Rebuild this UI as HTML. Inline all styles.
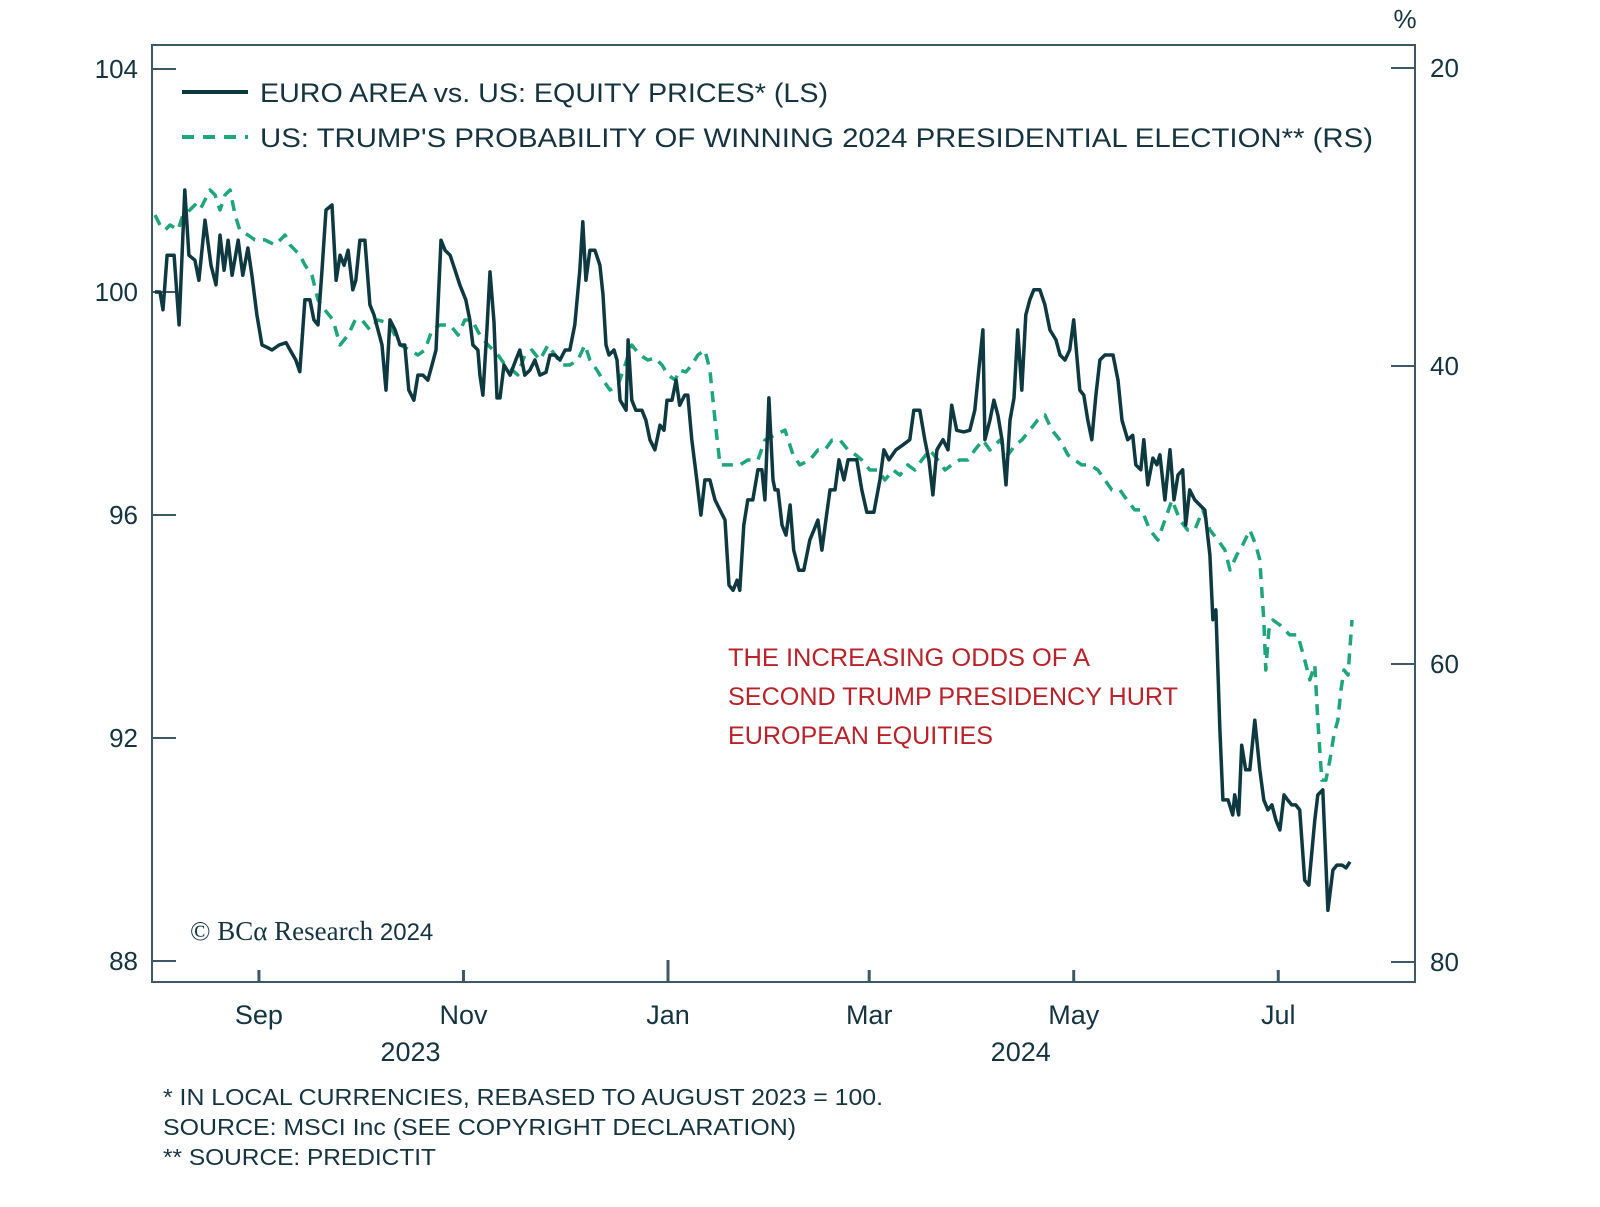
<!DOCTYPE html>
<html><head><meta charset="utf-8"><style>
html,body{margin:0;padding:0;background:#fff;}
svg{display:block;font-family:"Liberation Sans",sans-serif;}
</style></head><body>
<svg id="chart" width="1600" height="1207" viewBox="0 0 1600 1207">
<rect x="152" y="45" width="1263" height="937" fill="none" stroke="#3f5866" stroke-width="2"/>
<g id="axes"></g>
<g id="series"></g>
<g>
<line x1="182" y1="92" x2="248" y2="92" stroke="#0e3940" stroke-width="4"/>
<text x="260" y="102" font-size="27" fill="#15343f" textLength="568" lengthAdjust="spacingAndGlyphs">EURO AREA vs. US: EQUITY PRICES* (LS)</text>
<line x1="182" y1="137" x2="248" y2="137" stroke="#1fa57a" stroke-width="4" stroke-dasharray="12 9"/>
<text x="260" y="147" font-size="27" fill="#15343f" textLength="1113" lengthAdjust="spacingAndGlyphs">US: TRUMP'S PROBABILITY OF WINNING 2024 PRESIDENTIAL ELECTION** (RS)</text>
</g>
<g fill="#b8232a" font-size="25">
<text x="728" y="666" textLength="362" lengthAdjust="spacingAndGlyphs">THE INCREASING ODDS OF A</text>
<text x="728" y="705" textLength="450" lengthAdjust="spacingAndGlyphs">SECOND TRUMP PRESIDENCY HURT</text>
<text x="728" y="744" textLength="265" lengthAdjust="spacingAndGlyphs">EUROPEAN EQUITIES</text>
</g>
<text x="190" y="940" font-family="Liberation Serif, serif" font-size="27" fill="#15343f">© BCα Research <tspan font-family="Liberation Sans, sans-serif" font-size="24">2024</tspan></text>
<text x="1405" y="28" font-size="26" fill="#15343f" text-anchor="middle">%</text>
<g fill="#15343f" font-size="23">
<text x="163" y="1105" textLength="720" lengthAdjust="spacingAndGlyphs">* IN LOCAL CURRENCIES, REBASED TO AUGUST 2023 = 100.</text>
<text x="163" y="1135" textLength="633" lengthAdjust="spacingAndGlyphs">SOURCE: MSCI Inc (SEE COPYRIGHT DECLARATION)</text>
<text x="163" y="1165" textLength="273" lengthAdjust="spacingAndGlyphs">** SOURCE: PREDICTIT</text>
</g>
</svg>
<script>
const eqDays=[0,1.5,2.4,3.6,5.7,7.2,8.9,10.1,11.9,13.1,14.9,16.7,18.2,19.4,20.6,21.8,23,24.8,26.2,27.7,28.9,30.4,31.9,33.7,34.9,37,39.1,40.3,42,43.2,44.7,46.2,47.4,48.6,49.8,51,52.8,54,55.2,56.4,57.6,59,59.9,61.1,62.6,64.1,65.3,66.5,67.7,68.9,70.1,71.6,73.1,74.5,75.7,77.2,78.4,79.9,81.4,82.6,83.8,85.3,86.5,88,89.5,90.9,92.7,93.9,94.8,96.3,96.9,97.8,99,99.9,101.1,102,102.9,104.1,105.9,107.6,108.8,110.3,111.8,113.3,114.8,116.6,117.8,119.3,120.8,122.3,123.7,125.2,126.7,127.6,128.5,129.7,131.2,132.7,133.6,134.5,135.4,136.9,137.8,138.7,140.5,141.1,142.2,143.4,145.2,146.4,147.6,149.1,150.6,151.8,152.7,154.2,155.4,156.5,158,158.9,160.1,161.6,162.8,164,165.5,167,168.5,170,171.2,172.4,173.6,174.4,175.6,176.8,178.3,179.8,181,181.9,183.1,184.3,184.9,185.8,187,188.2,189.4,190.5,192,193.5,195.3,196.5,197.7,198.9,200.1,201.3,202.8,204,205.5,206.7,207.8,209.3,210.8,212.3,214.4,216.2,217.4,218.9,221,223.1,225.1,226.3,228.1,229.6,230.8,232,233.2,235,236.5,237.6,239.1,241.2,243,244.5,245.7,246.9,247.5,249,250.2,251.4,252.6,253.8,255,256.2,257.3,258.5,259.7,260.9,262.1,263.9,265.4,266.9,268.7,269.9,271.4,272.8,274,275.8,277,278.2,279.4,280.6,281.8,283.3,285.7,287.2,288.4,290.1,291.6,292.5,294,294.9,296.1,297.6,298.8,299.7,301.2,302.7,303.9,305.1,306.5,307.4,308.6,310.1,311.6,313.1,314.6,315.5,316.4,317.6,318.5,320,321.4,322,323.2,324.1,325.3,326.5,328,329.5,330.7,331.9,333.1,334.3,335.5,336.7,337.8,339,340.2,341.4,342.9,344.1,345.9,346.8,348.3,349.8,351.3,352.5,354,355.2,356.4];
const eqValues=[100,100,99.68,100.66,100.66,99.41,101.83,100.66,100.57,100.21,101.29,100.48,100.13,101.02,100.39,100.93,100.3,100.93,100.3,100.79,100.3,99.59,99.05,99,98.96,99.05,99.09,98.96,98.78,98.57,99.86,99.86,99.5,99.41,100.39,101.47,101.56,100.21,100.66,100.48,100.75,100.04,100.21,100.93,100.93,99.77,99.59,99.32,99.05,98.24,99.5,99.32,99.05,99.05,98.24,98.06,98.51,98.51,98.42,98.69,98.96,100.93,100.75,100.66,100.39,100.13,99.86,99.5,99.05,98.96,98.51,98.15,99.32,100.36,99.46,98.1,98.1,98.69,98.51,98.78,98.96,98.51,98.6,98.78,98.51,98.56,98.87,98.87,98.78,98.96,98.96,99.41,100.39,101.26,100.21,100.75,100.75,100.48,99.95,99.05,98.87,98.96,98.78,98.06,97.88,99.14,98.06,97.88,97.88,97.7,97.35,97.17,97.61,97.52,98.06,98.06,98.42,97.97,98.15,98.15,97.35,96.63,96,96.63,96.63,96.27,96.09,95.91,94.74,94.65,94.83,94.65,95.82,96.27,96.27,96.81,96.81,96.27,98.1,96.63,96.45,96.45,95.82,95.64,96.18,95.37,95.01,95.01,95.55,95.73,95.91,95.37,95.91,96.45,96.45,96.99,96.63,96.99,96.99,96.99,96.45,96.05,96.05,96.63,97.17,96.99,97.17,97.26,97.35,97.88,97.88,97.35,96.99,96.36,97.17,97.35,97.17,97.97,97.52,97.49,97.52,97.88,98.6,99.32,97.35,97.7,98.06,97.79,97.35,96.54,97.7,98.1,99.32,98.24,99.59,99.86,100.04,100.04,99.77,99.32,99.14,98.87,98.78,98.96,99.5,98.24,98.15,97.7,97.35,98.15,98.78,98.87,98.87,98.42,97.7,97.35,97.43,96.9,96.81,97.35,96.54,97.02,96.9,97.08,96.27,97.17,96.27,96.72,96.81,95.82,96.45,96.27,96.18,96.09,95.28,94.12,94.3,92.14,90.89,90.89,90.62,90.98,90.62,91.87,91.43,91.43,92.32,91.43,90.89,90.71,90.8,90.53,90.35,90.98,90.89,90.8,90.8,90.71,89.45,89.36,90.53,90.98,91.07,88.91,89.63,89.72,89.72,89.67,89.78];
const trDays=[0,1.5,3,4.5,6.9,8.3,10.4,11.9,13.4,14.9,16.4,17.9,19.4,20.9,22.4,23.9,25.3,27.7,29.8,32.8,35.8,38.8,40.3,43.2,44.7,46.8,48.6,50.7,53.1,55.2,57.6,59.7,61.7,64.1,66.5,68.6,70.7,73.1,76,78.4,80.5,82.6,85,88,90.4,92.4,94.5,96.9,99.3,102.3,104.4,106.5,108.2,110.3,112.4,114.8,117.2,119.3,121.4,123.7,126.1,128.2,129.7,131.8,133.6,135.7,138.1,140.2,142.2,144.6,147,149.1,151.2,153,155.1,156.5,158.3,160.1,161.9,164,165.5,167,168.5,171.5,174.4,176.8,179.8,181.9,184.9,187.9,190.3,192.3,195.3,197.7,199.8,201.9,204.3,206.7,209,210.8,213.2,215.6,217.7,220.1,222.2,224.5,226.6,228.7,231.1,233.5,235.6,237.6,240,242.4,244.5,246.9,249,252,254.4,256.5,258.5,260.9,263.3,265.4,267.5,269.9,272.3,274.3,276.4,278.8,281.2,283.3,285.4,287.8,289.9,292.2,294.3,296.7,299.1,301.2,303.3,305.7,308,310.1,312.5,314.6,317,319.1,320.6,322.6,324.4,326.5,328.3,329.5,330.7,331.3,332.2,333.4,335.5,338.4,340.8,342.9,344.4,345.9,346.8,348,349.2,350.4,351.6,352.8,353.7,354.6,355.8,357];
const trValues=[29.87,30.54,30.87,30.54,30.87,29.87,29.53,29.19,29.53,28.86,28.19,28.52,29.53,28.52,28.19,29.87,30.87,31.21,31.54,31.54,31.88,31.21,31.88,32.55,33.22,33.89,35.57,36.24,36.91,38.59,37.92,36.91,36.91,37.58,36.91,37.05,37.58,38.59,38.93,39.26,38.93,37.58,37.25,37.25,37.92,36.91,36.91,37.92,38.59,39.26,39.93,40.27,40.6,39.26,38.93,39.6,38.59,39.26,39.93,39.93,39.6,38.59,39.6,40.27,40.94,41.61,41.28,39.93,38.59,39.26,39.6,39.46,39.93,40.6,40.94,40.27,40.4,39.93,39.26,38.93,40.27,43.62,46.64,46.64,46.64,46.31,46.31,44.97,44.63,44.3,45.97,46.64,46.31,45.64,45.64,44.97,44.97,45.64,45.97,46.31,46.98,46.98,47.65,46.98,47.32,46.64,46.98,46.31,45.64,46.31,46.98,46.64,46.31,46.31,45.64,44.97,45.64,44.97,45.97,45.3,44.97,44.3,43.62,43.29,44.3,44.97,45.97,46.31,46.64,46.64,46.98,47.65,48.32,48.32,48.99,49.66,49.66,51.01,51.68,50.34,48.99,50.34,51.01,51.01,49.66,51.01,51.68,52.35,53.69,52.69,52.01,51.01,52.01,53.02,57.05,60.4,57.72,57.05,57.38,58.05,58.05,59.73,61.07,60.07,63.76,67.79,67.79,66.44,64.77,63.76,61.74,60.4,60.74,57.05];
const leftTicks=[104,100,96,92,88];
const rightTicks=[20,40,60,80];
const monthLabels=["Sep","Nov","Jan","Mar","May","Jul"];
const monthDays=[31,92,153,213,274,335];
const yearLabels=["2023","2024"];
const yearDays=[92,274];

const NS="http://www.w3.org/2000/svg";
const X0=155,PXD=3.353;
const xS=d=>X0+d*PXD;
const yL=v=>292-(v-100)*55.75;
const yR=p=>68+(p-20)*14.9;
const axes=document.getElementById('axes');
const ser=document.getElementById('series');
function mk(tag,at,parent){const e=document.createElementNS(NS,tag);for(const k in at)e.setAttribute(k,at[k]);parent.appendChild(e);return e;}
const AX="#3f5866",TXT="#15343f";
leftTicks.forEach(v=>{
  const y=yL(v);
  const t=mk('line',{x1:152,x2:176,y1:y,y2:y,stroke:AX,'stroke-width':2},axes);
  
  
  const l=mk('text',{x:138,y:y+9,'font-size':26,fill:TXT,'text-anchor':'end'},axes);
  l.textContent=v;
  
  
});
rightTicks.forEach(p=>{
  const y=yR(p);
  const t=mk('line',{x1:1391,x2:1415,y1:y,y2:y,stroke:AX,'stroke-width':2},axes);
  
  
  const l=mk('text',{x:1430,y:y+9,'font-size':26,fill:TXT},axes);
  l.textContent=p;
  
  
});
monthLabels.forEach((m,i)=>{
  const x=xS(monthDays[i]);
  const t=mk('line',{x1:x,x2:x,y1:m==="Jan"?960:970,y2:982,stroke:AX,'stroke-width':3},axes);
  
  
  const l=mk('text',{x:x,y:1024,'font-size':27,fill:TXT,'text-anchor':'middle'},axes);
  l.textContent=m;
  
  
});
yearLabels.forEach((yv,i)=>{
  const l=mk('text',{x:xS(yearDays[i])-53,y:1061,'font-size':27,fill:TXT,'text-anchor':'middle'},axes);
  l.textContent=yv;
  
  
});
const trPts=trDays.map((d,i)=>xS(d).toFixed(1)+','+yR(trValues[i]).toFixed(1)).join(' ');
const tr=mk('polyline',{points:trPts,fill:'none',stroke:'#1fa57a','stroke-width':3.5,'stroke-dasharray':'11 8','stroke-linejoin':'round'},ser);


const eqPts=eqDays.map((d,i)=>xS(d).toFixed(1)+','+yL(eqValues[i]).toFixed(1)).join(' ');
const eq=mk('polyline',{points:eqPts,fill:'none',stroke:'#0e3940','stroke-width':3.5,'stroke-linejoin':'round'},ser);


</script>
</body></html>
